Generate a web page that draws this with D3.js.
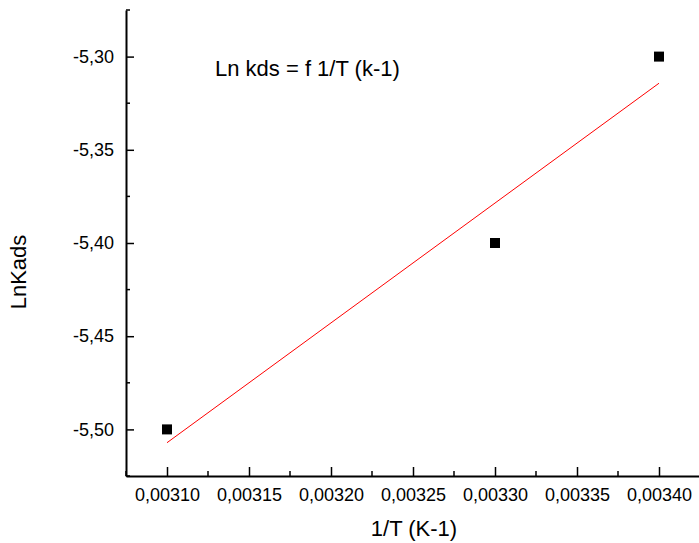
<!DOCTYPE html>
<html>
<head>
<meta charset="utf-8">
<script src="https://cdn.jsdelivr.net/npm/d3@7"></script>
<style>
  body { margin: 0; background: #fff; }
  svg text { font-family: "Liberation Sans", Arial, sans-serif; fill: #000; }
</style>
</head>
<body>
<svg id="chart" width="699" height="543"></svg>
<script>
// data
const invT = [0.00310, 0.00330, 0.00340];
const lnK = [-5.50, -5.40, -5.30];
const xTicks = [0.00310, 0.00315, 0.00320, 0.00325, 0.00330, 0.00335, 0.00340];
const yTicks = [-5.30, -5.35, -5.40, -5.45, -5.50];

const svg = d3.select('#chart');
const plotLeft = 126, plotRight = 700, plotTop = 10, plotBottom = 476;

const x = d3.scaleLinear().domain([0.003075, 0.003425]).range([plotLeft, plotRight]);
const y = d3.scaleLinear().domain([-5.525, -5.275]).range([plotBottom, plotTop]);

// decimal comma, plain hyphen for minus
const comma = d => d.toFixed(5).replace('.', ',');
const commaY = d => d.toFixed(2).replace('.', ',');

// minor ticks halfway between majors
const xMinor = d3.range(0, 8).map(i => 0.003075 + i * 0.00005);
const yMinor = d3.range(0, 6).map(i => -5.525 + i * 0.05);

// x axis
const gx = svg.append('g').attr('transform', `translate(0,${plotBottom})`);
gx.call(d3.axisBottom(x).tickValues(xTicks).tickSize(-9).tickPadding(12).tickFormat(comma).tickSizeOuter(0));
gx.append('g').selectAll('line').data(xMinor).join('line')
  .attr('x1', d => x(d)).attr('x2', d => x(d)).attr('y1', 0).attr('y2', -5)
  .attr('stroke', '#000').attr('stroke-width', 1.5);

// y axis
const gy = svg.append('g').attr('transform', `translate(${plotLeft},0)`);
gy.call(d3.axisLeft(y).tickValues(yTicks).tickSize(-8).tickPadding(12).tickFormat(commaY).tickSizeOuter(0));
gy.append('g').selectAll('line').data(yMinor).join('line')
  .attr('y1', d => y(d)).attr('y2', d => y(d)).attr('x1', 0).attr('x2', 4)
  .attr('stroke', '#000').attr('stroke-width', 1.5);

svg.selectAll('.domain').attr('stroke', '#000').attr('stroke-width', 2);
svg.selectAll('.tick line').attr('stroke', '#000').attr('stroke-width', 1.5);
svg.selectAll('.tick text').style('font-size', '18px');

// linear fit
const mx = d3.mean(invT), my = d3.mean(lnK);
const slope = d3.sum(invT, (d, i) => (d - mx) * (lnK[i] - my)) / d3.sum(invT, d => (d - mx) ** 2);
const icpt = my - slope * mx;
const xEnds = d3.extent(invT);
svg.append('line')
  .attr('x1', x(xEnds[0])).attr('y1', y(icpt + slope * xEnds[0]))
  .attr('x2', x(xEnds[1])).attr('y2', y(icpt + slope * xEnds[1]))
  .attr('stroke', '#ff0000').attr('stroke-width', 1);

// points
svg.append('g').selectAll('rect').data(invT).join('rect')
  .attr('x', d => x(d) - 5).attr('y', (d, i) => y(lnK[i]) - 5)
  .attr('width', 10).attr('height', 10).attr('fill', '#000');

// labels
svg.append('text').attr('x', 414).attr('y', 536).attr('text-anchor', 'middle')
  .style('font-size', '22px').text('1/T (K-1)');
svg.append('text').attr('transform', 'translate(26,272) rotate(-90)').attr('text-anchor', 'middle')
  .style('font-size', '22px').text('LnKads');
svg.append('text').attr('x', 215).attr('y', 76)
  .style('font-size', '22px').text('Ln kds = f 1/T (k-1)');
</script>
</body>
</html>
